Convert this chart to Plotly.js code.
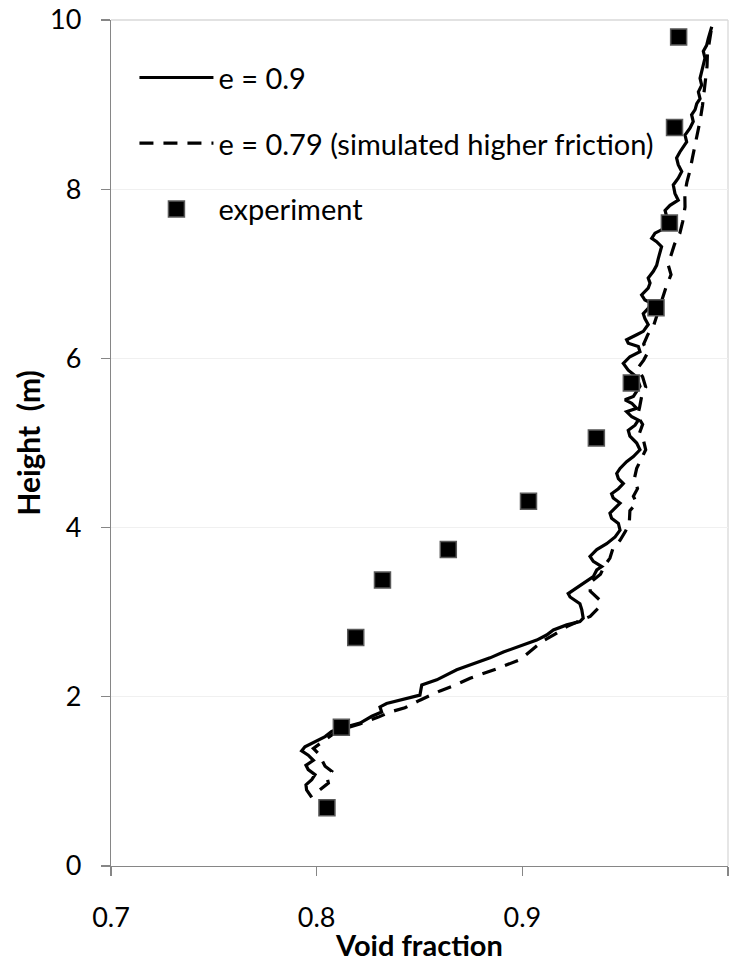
<!DOCTYPE html>
<html><head><meta charset="utf-8">
<script src="https://cdn.plot.ly/plotly-3.0.1.min.js"></script>
<style>body{margin:0;padding:0;background:#fff}#chart{width:734px;height:962px}</style>
</head><body><div id="chart"></div>
<script>
// e = 0.9 simulation (void fraction, height)
const solidX = [0.7976,0.7951,0.7948,0.7976,0.7992,0.7959,0.7948,0.7984,0.7959,0.7927,0.7943,0.7992,0.8041,0.8073,0.8122,0.8211,0.8268,0.8316,0.8308,0.8340,0.8438,0.8502,0.8511,0.8584,0.8681,0.8778,0.8843,0.8908,0.8956,0.9021,0.9070,0.9118,0.9151,0.9216,0.9280,0.9296,0.9289,0.9280,0.9232,0.9223,0.9272,0.9313,0.9345,0.9362,0.9386,0.9345,0.9329,0.9362,0.9410,0.9451,0.9475,0.9467,0.9434,0.9426,0.9459,0.9475,0.9442,0.9434,0.9467,0.9491,0.9467,0.9459,0.9475,0.9507,0.9540,0.9572,0.9556,0.9523,0.9515,0.9548,0.9564,0.9532,0.9507,0.9556,0.9532,0.9499,0.9540,0.9572,0.9556,0.9515,0.9491,0.9523,0.9572,0.9564,0.9515,0.9507,0.9556,0.9588,0.9612,0.9596,0.9588,0.9612,0.9629,0.9596,0.9580,0.9612,0.9621,0.9612,0.9637,0.9653,0.9661,0.9669,0.9677,0.9653,0.9629,0.9645,0.9677,0.9710,0.9702,0.9694,0.9718,0.9758,0.9742,0.9734,0.9758,0.9775,0.9758,0.9750,0.9766,0.9783,0.9799,0.9791,0.9815,0.9831,0.9823,0.9840,0.9848,0.9864,0.9856,0.9872,0.9864,0.9872,0.9880,0.9888,0.9880,0.9896,0.9904,0.9913,0.9921];
const solidY = [0.81,0.90,0.96,1.02,1.08,1.14,1.19,1.25,1.31,1.36,1.41,1.47,1.53,1.59,1.63,1.69,1.77,1.82,1.88,1.92,1.98,2.02,2.14,2.20,2.32,2.40,2.46,2.53,2.57,2.63,2.67,2.73,2.79,2.85,2.89,2.93,3.03,3.10,3.18,3.22,3.30,3.36,3.42,3.50,3.54,3.60,3.66,3.74,3.81,3.89,3.97,4.05,4.11,4.17,4.25,4.29,4.35,4.40,4.46,4.52,4.58,4.64,4.70,4.78,4.84,4.92,5.00,5.08,5.15,5.21,5.27,5.31,5.37,5.41,5.47,5.51,5.55,5.67,5.78,5.86,5.94,6.02,6.08,6.14,6.18,6.22,6.28,6.32,6.40,6.47,6.53,6.59,6.65,6.69,6.75,6.83,6.89,6.95,7.03,7.10,7.18,7.26,7.32,7.38,7.42,7.48,7.52,7.60,7.68,7.75,7.81,7.87,7.95,8.05,8.13,8.21,8.29,8.37,8.44,8.50,8.56,8.64,8.72,8.80,8.88,8.94,9.01,9.07,9.15,9.23,9.31,9.39,9.47,9.55,9.63,9.70,9.78,9.86,9.92];

// e = 0.79 simulation (simulated higher friction)
const dashX = [0.8016,0.8057,0.8050,0.8073,0.8041,0.8008,0.7984,0.8030,0.8080,0.8130,0.8210,0.8300,0.8357,0.8429,0.8502,0.8600,0.8665,0.8746,0.8875,0.8989,0.9053,0.9100,0.9159,0.9216,0.9280,0.9330,0.9370,0.9378,0.9330,0.9330,0.9380,0.9400,0.9426,0.9440,0.9475,0.9500,0.9520,0.9523,0.9556,0.9540,0.9560,0.9545,0.9556,0.9580,0.9600,0.9590,0.9570,0.9585,0.9560,0.9570,0.9580,0.9600,0.9585,0.9560,0.9590,0.9610,0.9590,0.9610,0.9640,0.9660,0.9684,0.9700,0.9723,0.9710,0.9723,0.9740,0.9766,0.9780,0.9791,0.9790,0.9800,0.9815,0.9827,0.9840,0.9852,0.9865,0.9876,0.9885,0.9890,0.9898,0.9900,0.9910,0.9921];
const dashY = [0.90,0.98,1.05,1.12,1.18,1.33,1.39,1.47,1.56,1.62,1.68,1.76,1.82,1.87,1.96,2.07,2.13,2.22,2.33,2.44,2.57,2.66,2.74,2.83,2.90,2.95,3.05,3.14,3.25,3.35,3.45,3.55,3.64,3.75,3.85,3.95,4.05,4.20,4.29,4.37,4.46,4.58,4.70,4.82,4.92,5.02,5.12,5.22,5.32,5.42,5.55,5.66,5.78,5.88,5.98,6.07,6.17,6.28,6.40,6.55,6.74,6.85,6.99,7.10,7.22,7.35,7.48,7.62,7.79,7.95,8.08,8.22,8.37,8.52,8.66,8.82,8.99,9.15,9.30,9.45,9.60,9.75,9.92];

// experiment
const expX = [0.805,0.812,0.819,0.832,0.864,0.903,0.936,0.953,0.965,0.9715,0.974,0.976];
const expY = [0.69,1.64,2.70,3.38,3.74,4.31,5.06,5.71,6.60,7.60,8.73,9.80];

const names = ['e = 0.9','e = 0.79 (simulated higher friction)','experiment'];
const xTicks = [0.7,0.8,0.9,1.0];
const xTickText = ['0.7','0.8','0.9','1'];
const yTicks = [0,2,4,6,8,10];

const FONT = 'Lato, "Open Sans", sans-serif';

const traces = [
  {x: solidX, y: solidY, type:'scatter', mode:'lines', name: names[0], legendgroup:'a',
   line:{color:'#000', width:3.2}},
  {x: dashX, y: dashY, type:'scatter', mode:'lines', name: names[1], legendgroup:'b',
   line:{color:'#000', width:3.2, dash:'14px,10px'}},
  {x: expX, y: expY, type:'scatter', mode:'markers', name: names[2], legendgroup:'c',
   marker:{symbol:'square', size:16, color:'#000', line:{color:'#595959', width:1.5}}}
];

const layout = {
  width:734, height:962,
  margin:{l:111, r:6, t:20, b:96},
  paper_bgcolor:'#fff', plot_bgcolor:'#fff',
  font:{family:FONT, color:'#000', size:24},
  showlegend:true,
  legend:{x:0.038, y:0.962, xanchor:'left', yanchor:'top', bgcolor:'rgba(0,0,0,0)',
    font:{family:FONT, size:29, color:'#000'}, traceorder:'grouped', tracegroupgap:25, itemwidth:74},
  xaxis:{range:[0.7,1.0], tickvals:xTicks, ticktext:xTickText, showgrid:false, zeroline:false,
    showline:true, linecolor:'#868686', linewidth:1.3, ticks:'outside', ticklen:9, tickcolor:'#868686', tickwidth:1.3,
    tickfont:{family:FONT, size:27, color:'#000'}, ticklabelstandoff:18,
    title:{text:'<b>Void fraction</b>', font:{family:FONT, size:29, color:'#000'}, standoff:0}},
  yaxis:{range:[0,10], tickvals:yTicks, showgrid:true, gridcolor:'#f0f0f0', gridwidth:1, zeroline:false,
    showline:true, linecolor:'#868686', linewidth:1.3, ticks:'outside', ticklen:9, tickcolor:'#868686', tickwidth:1.3,
    tickfont:{family:FONT, size:27, color:'#000'}, ticklabelstandoff:14,
    title:{text:'<b>Height  (m)</b>', font:{family:FONT, size:30, color:'#000'}, standoff:0}},
  shapes:[
    {type:'line', xref:'paper', yref:'paper', x0:0, x1:1, y0:1, y1:1, line:{color:'#d9d9d9', width:1.3}, layer:'below'},
    {type:'line', xref:'paper', yref:'paper', x0:1, x1:1, y0:0, y1:1, line:{color:'#d9d9d9', width:1.3}, layer:'below'}
  ]
};

Plotly.newPlot('chart', traces, layout, {displayModeBar:false, staticPlot:true});
</script></body></html>
